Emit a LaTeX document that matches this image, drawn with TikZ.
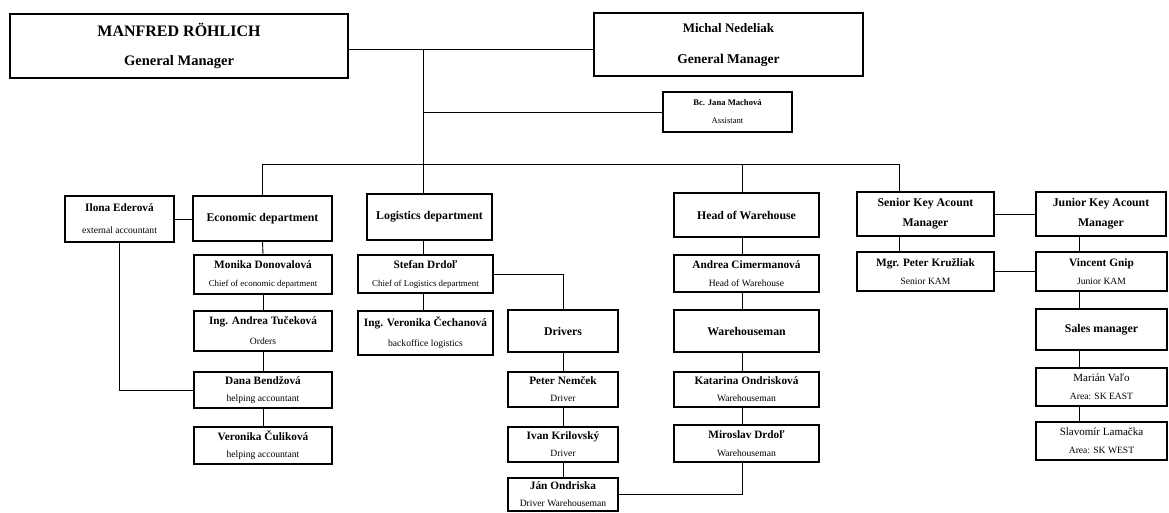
\documentclass[tikz,border=0pt]{standalone}
\usepackage{fontspec}
\setmainfont{Liberation Serif}
\newcommand\pname[1]{{\fontsize{11.3}{18}\selectfont\bfseries #1}}
\newcommand\pnamer[1]{{\fontsize{11}{18}\selectfont #1}}
\newcommand\psub[1]{{\fontsize{9.6}{18}\selectfont #1}}
\newcommand\psubs[1]{{\fontsize{8.9}{18}\selectfont #1}}
\begin{document}
\begin{tikzpicture}[x=1pt,y=-1pt,
  box/.style={draw,line width=1.8pt,inner sep=0pt,align=center,font=\fontsize{10}{18}\selectfont},
  dept/.style={box,font=\fontsize{11.8}{20}\selectfont\bfseries},
  conn/.style={line width=0.9pt}]
\useasboundingbox (0,0) rectangle (1169,513);

% top managers
\node[box,minimum width=338pt,minimum height=64pt,font=\fontsize{16}{29}\selectfont\bfseries] (manfred) at (179,46)
  {MANFRED RÖHLICH\\{\fontsize{14.5}{29}\selectfont General Manager}};
\node[box,minimum width=269pt,minimum height=63pt,font=\fontsize{13}{31}\selectfont\bfseries] (michal) at (728.5,44.5)
  {Michal Nedeliak\\{\fontsize{13.5}{31}\selectfont General Manager}};
\node[box,minimum width=129pt,minimum height=40pt,font=\fontsize{8.6}{18}\selectfont] (jana) at (727.5,112)
  {\textbf{Bc. Jana Machová}\\Assistant};

% departments
\node[dept,minimum width=139pt,minimum height=45pt] (eco) at (262.5,218.5) {Economic department};
\node[dept,minimum width=125pt,minimum height=46pt] (log) at (429.5,217) {Logistics department};
\node[dept,minimum width=145pt,minimum height=44pt] (how) at (746.5,215) {Head of Warehouse};
\node[dept,minimum width=137pt,minimum height=44pt] (skam) at (925.5,214) {Senior Key Acount\\Manager};
\node[dept,minimum width=130pt,minimum height=44pt] (jkam) at (1101,214) {Junior Key Acount\\Manager};
\node[box,minimum width=109pt,minimum height=46pt,font=\fontsize{10}{22}\selectfont] (ilona) at (119.5,219)
  {\pname{Ilona Ederová}\\\psub{external accountant}};

% economic
\node[box,minimum width=138pt,minimum height=39pt] (monika) at (263,274.5) {\pname{Monika Donovalová}\\\psubs{Chief of economic department}};
\node[box,minimum width=138pt,minimum height=40pt,font=\fontsize{10}{20}\selectfont] (andrea) at (263,331) {\pname{Ing. Andrea Tučeková}\\\psub{Orders}};
\node[box,minimum width=138pt,minimum height=36pt,font=\fontsize{10}{17}\selectfont] (dana) at (263,390) {\pname{Dana Bendžová}\\\psub{helping accountant}};
\node[box,minimum width=138pt,minimum height=37pt,font=\fontsize{10}{17}\selectfont] (verc) at (263,445.5) {\pname{Veronika Čuliková}\\\psub{helping accountant}};

% logistics
\node[box,minimum width=135pt,minimum height=38pt] (stefan) at (425.5,274) {\pname{Stefan Drdoľ}\\\psubs{Chief of Logistics department}};
\node[box,minimum width=135pt,minimum height=44pt,font=\fontsize{10}{20}\selectfont] (vcech) at (425.5,333) {\pname{Ing. Veronika Čechanová}\\\psub{backoffice logistics}};
\node[dept,minimum width=110pt,minimum height=42pt] (drivers) at (563,331) {Drivers};
\node[box,minimum width=110pt,minimum height=35pt,font=\fontsize{10}{17}\selectfont] (peter) at (563,389.5) {\pname{Peter Nemček}\\\psub{Driver}};
\node[box,minimum width=110pt,minimum height=35pt,font=\fontsize{10}{17}\selectfont] (ivan) at (563,444.5) {\pname{Ivan Krilovský}\\\psub{Driver}};
\node[box,minimum width=110pt,minimum height=33pt,font=\fontsize{10}{17}\selectfont] (jan) at (563,494.5) {\pname{Ján Ondriska}\\\psub{Driver Warehouseman}};

% warehouse
\node[box,minimum width=145pt,minimum height=37pt] (acim) at (746.5,273.5) {\pname{Andrea Cimermanová}\\\psub{Head of Warehouse}};
\node[dept,minimum width=145pt,minimum height=42pt] (wman) at (746.5,331) {Warehouseman};
\node[box,minimum width=145pt,minimum height=35pt,font=\fontsize{10}{17}\selectfont] (kat) at (746.5,389.5) {\pname{Katarina Ondrisková}\\\psub{Warehouseman}};
\node[box,minimum width=145pt,minimum height=37pt] (mir) at (746.5,443.5) {\pname{Miroslav Drdoľ}\\\psub{Warehouseman}};

% sales
\node[box,minimum width=137pt,minimum height=39pt] (kruz) at (925.5,271.5) {\pname{Mgr. Peter Kružliak}\\\psub{Senior KAM}};
\node[box,minimum width=131pt,minimum height=39pt] (vinc) at (1101.5,271.5) {\pname{Vincent Gnip}\\\psub{Junior KAM}};
\node[dept,minimum width=131pt,minimum height=41pt] (sales) at (1101.5,329.5) {Sales manager};
\node[box,minimum width=131pt,minimum height=38pt] (marian) at (1101.5,387) {\pnamer{Marián Vaľo}\\\psub{Area: SK EAST}};
\node[box,minimum width=131pt,minimum height=38pt] (slav) at (1101.5,441) {\pnamer{Slavomír Lamačka}\\\psub{Area: SK WEST}};

% helper coordinates
\coordinate (top) at (423,49);
\coordinate (bsk) at (899,164);
\coordinate (xhow) at (742,164);
\coordinate (xr) at (1079,236);

% connectors
\draw[conn] (manfred.east |- top) -- (michal.west |- top);
\draw[conn] (top) -- (log.north -| top);
\draw[conn] (top |- jana.west) -- (jana.west);
\draw[conn] (eco.north) |- (bsk) -- (bsk |- skam.north);
\draw[conn] (xhow) -- (xhow |- how.north);
\draw[conn] (ilona.east) -- (ilona.east -| eco.west);
\draw[conn] (ilona.south) |- (dana.west);
\draw[conn] (eco.south) -- (monika.north);
\draw[conn] (monika.south) -- (andrea.north);
\draw[conn] (andrea.south) -- (dana.north);
\draw[conn] (dana.south) -- (verc.north);
\draw[conn] (log.south -| top) -- (stefan.north -| top);
\draw[conn] (stefan.south -| top) -- (vcech.north -| top);
\draw[conn] (stefan.east) -| (drivers.north);
\draw[conn] (drivers.south) -- (peter.north);
\draw[conn] (peter.south) -- (ivan.north);
\draw[conn] (ivan.south) -- (jan.north);
\draw[conn] (jan.east) -| (mir.south -| xhow);
\draw[conn] (how.south -| xhow) -- (acim.north -| xhow);
\draw[conn] (acim.south -| xhow) -- (wman.north -| xhow);
\draw[conn] (wman.south -| xhow) -- (kat.north -| xhow);
\draw[conn] (kat.south -| xhow) -- (mir.north -| xhow);
\draw[conn] (skam.east) -- (jkam.west);
\draw[conn] (skam.south -| bsk) -- (kruz.north -| bsk);
\draw[conn] (kruz.east) -- (vinc.west);
\draw[conn] (jkam.south -| xr) -- (vinc.north -| xr);
\draw[conn] (vinc.south -| xr) -- (sales.north -| xr);
\draw[conn] (sales.south -| xr) -- (marian.north -| xr);
\draw[conn] (marian.south -| xr) -- (slav.north -| xr);
\end{tikzpicture}
\end{document}
